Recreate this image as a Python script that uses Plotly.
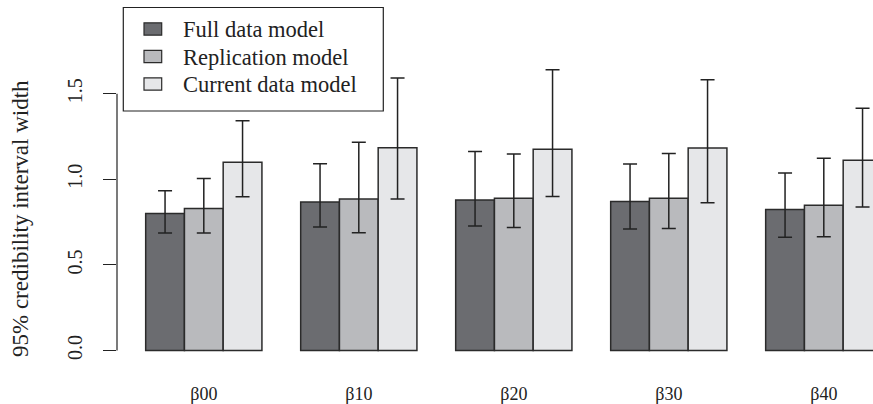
import plotly.graph_objects as go

categories = ["β00", "β10", "β20", "β30", "β40"]
series_names = ["Full data model", "Replication model", "Current data model"]

full_width = [0.80, 0.867, 0.879, 0.870, 0.823]
full_lower = [0.686, 0.721, 0.727, 0.710, 0.661]
full_upper = [0.933, 1.091, 1.163, 1.090, 1.037]

repl_width = [0.830, 0.885, 0.890, 0.890, 0.848]
repl_lower = [0.686, 0.688, 0.718, 0.712, 0.665]
repl_upper = [1.004, 1.216, 1.148, 1.150, 1.123]

curr_width = [1.100, 1.185, 1.176, 1.183, 1.111]
curr_lower = [0.898, 0.885, 0.900, 0.863, 0.838]
curr_upper = [1.342, 1.592, 1.640, 1.582, 1.415]

y_ticks = [0.0, 0.5, 1.0, 1.5]
y_tick_labels = ["0.0", "0.5", "1.0", "1.5"]

colors = ["#6b6c70", "#b9babd", "#e6e7e9"]
outline = "#2b2b2b"
INK = "#222222"
FONT = "Liberation Serif"

fig = go.Figure()
for name, vals, lo, hi, col in zip(
    series_names,
    [full_width, repl_width, curr_width],
    [full_lower, repl_lower, curr_lower],
    [full_upper, repl_upper, curr_upper],
    colors,
):
    fig.add_trace(go.Bar(
        x=categories, y=vals, name=name, showlegend=False,
        marker=dict(color=col, line=dict(color=outline, width=1.5)),
        error_y=dict(type="data", symmetric=False,
                     array=[h - v for h, v in zip(hi, vals)],
                     arrayminus=[v - l for v, l in zip(vals, lo)],
                     color=INK, thickness=1.5, width=7),
    ))

W, H = 873, 404
ml, mr, mt, mb = 117, 0, 0, 39
plot_w = W - ml - mr
plot_h = H - mt - mb
cat_px = 155.0
first_center_px = 203.8
x0 = -(first_center_px - ml) / cat_px
x1 = x0 + plot_w / cat_px
px_per_unit = 171.2
zero_px = 350.5
y_top = (zero_px - mt) / px_per_unit
y_bot = -(mt + plot_h - zero_px) / px_per_unit


def px_x(px):
    return (px - ml) / plot_w


def px_y(py):
    return 1 - (py - mt) / plot_h


fig.update_layout(
    width=W, height=H,
    margin=dict(l=ml, r=mr, t=mt, b=mb, pad=0),
    paper_bgcolor="white", plot_bgcolor="white",
    barmode="group", bargap=0.25, bargroupgap=0,
    font=dict(family=FONT, color=INK),
    showlegend=False,
    xaxis=dict(range=[x0, x1], showline=False, showgrid=False, zeroline=False,
               ticks="", tickfont=dict(family=FONT, size=18, color=INK),
               ticklabelstandoff=16),
    yaxis=dict(range=[y_bot, y_top], showline=False, showgrid=False, zeroline=False,
               tickmode="array", tickvals=y_ticks, ticktext=y_tick_labels,
               ticks="outside", ticklen=13, tickwidth=1.2, tickcolor=INK,
               tickangle=-90, ticklabelstandoff=13,
               tickfont=dict(family=FONT, size=20, color=INK)),
)

# y axis line spanning the ticks only
fig.add_shape(type="line", xref="paper", yref="y", x0=0, x1=0,
              y0=y_ticks[0], y1=y_ticks[-1], line=dict(color=INK, width=1.2))

fig.add_annotation(text="95% credibility interval width", xref="paper", yref="y",
                   x=0, y=(zero_px - 219) / px_per_unit, xshift=20 - ml,
                   xanchor="center", yanchor="middle", textangle=-90, showarrow=False,
                   font=dict(family=FONT, size=23, color=INK))

# legend box (drawn as in the original)
fig.add_shape(type="rect", xref="paper", yref="paper",
              x0=px_x(123.3), x1=px_x(383.3), y0=px_y(111), y1=px_y(7.5),
              fillcolor="white", line=dict(color=INK, width=1.2), layer="above")
row_centers = [29.0, 56.5, 84.0]
for name, col, rc in zip(series_names, colors, row_centers):
    fig.add_shape(type="rect", xref="paper", yref="paper",
                  x0=px_x(144), x1=px_x(161.7), y0=px_y(rc + 6.2), y1=px_y(rc - 6.2),
                  fillcolor=col, line=dict(color=outline, width=1.2), layer="above")
    fig.add_annotation(text=name, xref="paper", yref="paper",
                       x=px_x(180.5), y=px_y(rc + 0.5), xanchor="left", yanchor="middle",
                       showarrow=False,
                       font=dict(family=FONT, size=22.5, color=INK))

fig.write_html("out.html", config={"displayModeBar": False},
               post_script="document.body.style.margin='0';document.body.style.overflow='hidden';")
